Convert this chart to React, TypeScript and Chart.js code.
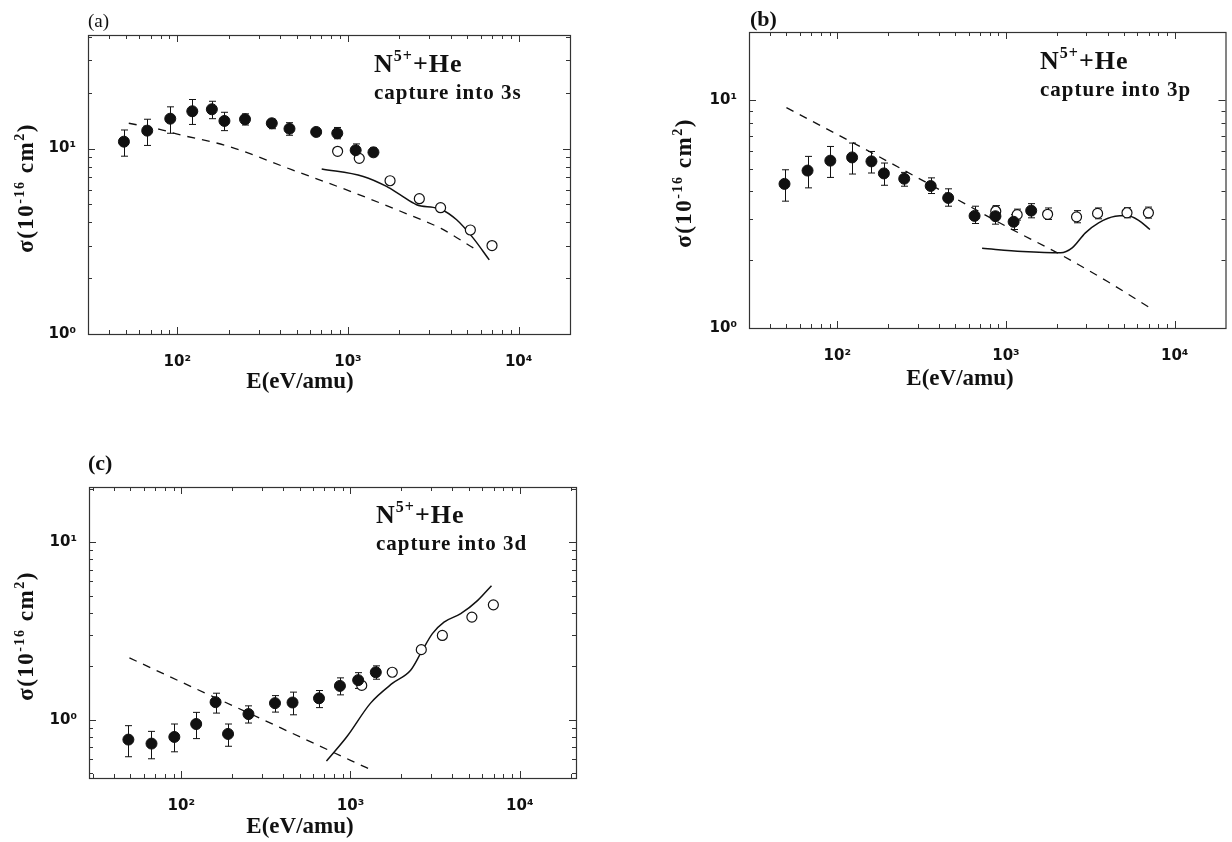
import React, { useEffect, useRef } from "react";
import { Chart, registerables } from "chart.js";

Chart.register(...registerables);

// ---------- shared energies (eV/amu) ----------
const E_FILLED = [48.7, 66.7, 91, 122.5, 159.5, 189, 249.5, 358, 454.5, 651.5, 866, 1110, 1411];
const E_OPEN = [870, 1165, 1765, 2620, 3490, 5215, 6985];
const E_OPEN_3D = [1165, 1765, 2620, 3490, 5215, 6985];
const X_TICKS = [100, 1000, 10000];
const Y_TICKS = [1, 10];

// ---------- (a) capture into 3s ----------
const S_FILLED = [10.9, 12.5, 14.5, 15.9, 16.3, 14.1, 14.4, 13.7, 12.8, 12.3, 12.1, 9.8, 9.55];
const S_FILLED_HI = [12.6, 14.4, 16.8, 18.4, 18.0, 15.7, 15.4, 14.4, 13.8, 12.8, 13.0, 10.6, 10.1];
const S_FILLED_LO = [9.1, 10.4, 12.1, 13.5, 14.5, 12.5, 13.4, 12.8, 11.8, 11.7, 11.3, 9.3, 9.1];
const S_OPEN = [9.67, 8.86, 6.71, 5.37, 4.8, 3.64, 3.0];
const S_DASH_E = [52, 79, 99, 199, 468, 1050, 2250, 3510, 5470];
const S_DASH = [13.7, 12.7, 12.0, 10.3, 7.7, 5.85, 4.42, 3.71, 2.9];
const S_SOLID_E = [702, 1230, 1684, 2018, 2524, 3162, 3460, 4333, 5420, 6730];
const S_SOLID = [7.77, 7.08, 6.25, 5.64, 4.98, 4.82, 4.74, 4.13, 3.29, 2.51];

// ---------- (b) capture into 3p ----------
const P_FILLED = [4.3, 4.92, 5.44, 5.62, 5.4, 4.78, 4.53, 4.21, 3.73, 3.11, 3.1, 2.93, 3.28];
const P_FILLED_HI = [4.96, 5.68, 6.28, 6.5, 5.97, 5.31, 4.83, 4.57, 4.09, 3.43, 3.43, 3.15, 3.52];
const P_FILLED_LO = [3.61, 4.13, 4.59, 4.75, 4.8, 4.24, 4.2, 3.9, 3.43, 2.88, 2.86, 2.71, 3.05];
const P_OPEN = [3.26, 3.15, 3.16, 3.08, 3.19, 3.21, 3.21];
const P_OPEN_HI = [3.45, 3.33, 3.37, 3.28, 3.37, 3.38, 3.4];
const P_OPEN_LO = [3.08, 2.98, 3.0, 2.9, 3.02, 3.05, 3.04];
const P_DASH_E = [50, 130, 405, 1000, 2060, 4000, 7100];
const P_DASH = [9.3, 6.4, 4.05, 2.8, 2.12, 1.6, 1.23];
const P_SOLID_E = [722, 1253, 2108, 2468, 2956, 3540, 4437, 5190, 6080, 7130];
const P_SOLID = [2.24, 2.17, 2.14, 2.25, 2.62, 2.9, 3.1, 3.12, 2.98, 2.71];

// ---------- (c) capture into 3d ----------
const D_FILLED = [0.773, 0.734, 0.8, 0.946, 1.256, 0.832, 1.076, 1.24, 1.25, 1.32, 1.55, 1.67, 1.85];
const D_FILLED_HI = [0.926, 0.86, 0.946, 1.1, 1.41, 0.946, 1.197, 1.367, 1.43, 1.46, 1.72, 1.84, 2.01];
const D_FILLED_LO = [0.619, 0.603, 0.66, 0.783, 1.09, 0.709, 0.958, 1.104, 1.066, 1.17, 1.38, 1.5, 1.69];
const D_OPEN = [1.56, 1.85, 2.48, 2.98, 3.78, 4.43];
const D_DASH_E = [49.4, 100, 256, 500, 1000, 1374];
const D_DASH = [2.23, 1.63, 1.08, 0.803, 0.591, 0.514];
const D_SOLID_E = [721, 956, 1314, 1766, 2266, 2597, 3047, 3568, 4481, 5627, 6809];
const D_SOLID = [0.585, 0.807, 1.24, 1.6, 1.9, 2.36, 3.05, 3.54, 3.95, 4.68, 5.68];

const INK = "#111";
const SERIF = '"Liberation Serif", "Times New Roman", serif';
const SANS = '"DejaVu Sans", "Liberation Sans", sans-serif';
const SUP: Record<string, string> = { "-1": "⁻¹", "0": "⁰", "1": "¹", "2": "²", "3": "³", "4": "⁴", "5": "⁵" };

type PanelSpec = {
  id: string;
  canvas: { left: number; top: number; width: number; height: number };
  area: { left: number; top: number; right: number; bottom: number };
  xMin: number; xMax: number; yMin: number; yMax: number;
  filledE: number[]; filled: number[]; filledHi: number[]; filledLo: number[];
  openE: number[]; open: number[]; openHi?: number[]; openLo?: number[];
  dashE: number[]; dash: number[]; solidE: number[]; solid: number[];
  tag: { text: string; font: string; x: number; y: number };
  note: { x: number; y1: number; y2: number; line2: string };
  xTitle: { x: number; y: number };
  yTitle: { x: number; y: number };
};

const PANELS: PanelSpec[] = [
  {
    id: "a",
    canvas: { left: 0, top: 0, width: 600, height: 400 },
    area: { left: 88, top: 35, right: 570, bottom: 334 },
    xMin: 30, xMax: 20000, yMin: 1, yMax: 41,
    filledE: E_FILLED, filled: S_FILLED, filledHi: S_FILLED_HI, filledLo: S_FILLED_LO,
    openE: E_OPEN, open: S_OPEN,
    dashE: S_DASH_E, dash: S_DASH, solidE: S_SOLID_E, solid: S_SOLID,
    tag: { text: "(a)", font: `19px ${SERIF}`, x: 88, y: 27 },
    note: { x: 374, y1: 72, y2: 99, line2: "capture into 3s" },
    xTitle: { x: 300, y: 382 },
    yTitle: { x: 25, y: 188 },
  },
  {
    id: "b",
    canvas: { left: 620, top: 0, width: 612, height: 400 },
    area: { left: 129, top: 32, right: 609, bottom: 328 },
    xMin: 30, xMax: 20000, yMin: 1, yMax: 20,
    filledE: E_FILLED, filled: P_FILLED, filledHi: P_FILLED_HI, filledLo: P_FILLED_LO,
    openE: E_OPEN, open: P_OPEN, openHi: P_OPEN_HI, openLo: P_OPEN_LO,
    dashE: P_DASH_E, dash: P_DASH, solidE: P_SOLID_E, solid: P_SOLID,
    tag: { text: "(b)", font: `bold 22px ${SERIF}`, x: 130, y: 26 },
    note: { x: 420, y1: 69, y2: 96, line2: "capture into 3p" },
    xTitle: { x: 340, y: 379 },
    yTitle: { x: 63, y: 183 },
  },
  {
    id: "c",
    canvas: { left: 0, top: 430, width: 600, height: 412 },
    area: { left: 89, top: 57, right: 576, bottom: 348 },
    xMin: 28.5, xMax: 21500, yMin: 0.47, yMax: 20.4,
    filledE: E_FILLED, filled: D_FILLED, filledHi: D_FILLED_HI, filledLo: D_FILLED_LO,
    openE: E_OPEN_3D, open: D_OPEN,
    dashE: D_DASH_E, dash: D_DASH, solidE: D_SOLID_E, solid: D_SOLID,
    tag: { text: "(c)", font: `bold 22px ${SERIF}`, x: 88, y: 40 },
    note: { x: 376, y1: 93, y2: 120, line2: "capture into 3d" },
    xTitle: { x: 300, y: 397 },
    yTitle: { x: 25, y: 206 },
  },
];

function pts(xs: number[], ys: number[]) {
  return xs.map((x, i) => ({ x, y: ys[i] }));
}

function powLabel(v: number) {
  const e = Math.round(Math.log10(v));
  return "10" + (SUP[String(e)] ?? String(e));
}

function logMarks(min: number, max: number) {
  const out: { v: number; major: boolean }[] = [];
  for (let e = Math.floor(Math.log10(min)); e <= Math.ceil(Math.log10(max)); e++) {
    for (let d = 1; d <= 9; d++) {
      const v = d * Math.pow(10, e);
      if (v > min * 1.0001 && v < max * 0.9999) out.push({ v, major: d === 1 });
    }
  }
  return out;
}

type Part = { t: string; f: string; dy?: number };
function drawRich(ctx: CanvasRenderingContext2D, x: number, y: number, parts: Part[], center = false) {
  let w = 0;
  parts.forEach((p) => {
    ctx.font = p.f;
    w += ctx.measureText(p.t).width;
  });
  let cx = center ? x - w / 2 : x;
  ctx.textAlign = "left";
  parts.forEach((p) => {
    ctx.font = p.f;
    ctx.fillText(p.t, cx, y + (p.dy || 0));
    cx += ctx.measureText(p.t).width;
  });
}

function buildConfig(p: PanelSpec): any {
  const errorBars = {
    id: "errorBars",
    beforeDatasetsDraw(chart: any) {
      const { ctx, scales } = chart;
      ctx.save();
      ctx.strokeStyle = INK;
      ctx.lineWidth = 1;
      chart.data.datasets.forEach((ds: any) => {
        if (!ds.errHi || !ds.errLo) return;
        ds.data.forEach((pt: any, j: number) => {
          const x = Math.round(scales.x.getPixelForValue(pt.x)) + 0.5;
          const y1 = scales.y.getPixelForValue(ds.errHi[j]);
          const y2 = scales.y.getPixelForValue(ds.errLo[j]);
          ctx.beginPath();
          ctx.moveTo(x, y1);
          ctx.lineTo(x, y2);
          ctx.moveTo(x - 3.5, y1);
          ctx.lineTo(x + 3.5, y1);
          ctx.moveTo(x - 3.5, y2);
          ctx.lineTo(x + 3.5, y2);
          ctx.stroke();
        });
      });
      ctx.restore();
    },
  };

  const frame = {
    id: "frame",
    afterDraw(chart: any) {
      const { ctx, chartArea: a, scales } = chart;
      ctx.save();
      ctx.strokeStyle = "#333";
      ctx.lineWidth = 1.2;
      ctx.strokeRect(a.left + 0.5, a.top + 0.5, a.right - a.left, a.bottom - a.top);
      ctx.lineWidth = 1;
      ctx.beginPath();
      logMarks(p.xMin, p.xMax).forEach(({ v, major }) => {
        const x = Math.round(scales.x.getPixelForValue(v)) + 0.5;
        const L = major ? 7 : 4;
        ctx.moveTo(x, a.bottom);
        ctx.lineTo(x, a.bottom - L);
        ctx.moveTo(x, a.top);
        ctx.lineTo(x, a.top + L);
      });
      logMarks(p.yMin, p.yMax).forEach(({ v, major }) => {
        const y = Math.round(scales.y.getPixelForValue(v)) + 0.5;
        const L = major ? 7 : 4;
        ctx.moveTo(a.left, y);
        ctx.lineTo(a.left + L, y);
        ctx.moveTo(a.right, y);
        ctx.lineTo(a.right - L, y);
      });
      ctx.stroke();
      ctx.restore();
    },
  };

  const texts = {
    id: "texts",
    afterDraw(chart: any) {
      const ctx: CanvasRenderingContext2D = chart.ctx;
      ctx.save();
      ctx.fillStyle = INK;
      ctx.textBaseline = "alphabetic";
      ctx.textAlign = "left";
      ctx.font = p.tag.font;
      ctx.fillText(p.tag.text, p.tag.x, p.tag.y);

      (ctx as any).letterSpacing = "1px";
      drawRich(ctx, p.note.x, p.note.y1, [
        { t: "N", f: `bold 26px ${SERIF}` },
        { t: "5+", f: `bold 16px ${SERIF}`, dy: -11 },
        { t: "+He", f: `bold 26px ${SERIF}` },
      ]);
      ctx.font = `bold 21px ${SERIF}`;
      ctx.fillText(p.note.line2, p.note.x, p.note.y2);
      (ctx as any).letterSpacing = "0px";

      ctx.textAlign = "center";
      ctx.textBaseline = "middle";
      ctx.font = `bold 23px ${SERIF}`;
      ctx.fillText("E(eV/amu)", p.xTitle.x, p.xTitle.y);

      ctx.translate(p.yTitle.x, p.yTitle.y);
      ctx.rotate(-Math.PI / 2);
      ctx.textBaseline = "alphabetic";
      (ctx as any).letterSpacing = "1.5px";
      drawRich(
        ctx,
        0,
        8,
        [
          { t: "σ(10", f: `bold 23px ${SERIF}` },
          { t: "-16", f: `bold 14px ${SERIF}`, dy: -9 },
          { t: " cm", f: `bold 23px ${SERIF}` },
          { t: "2", f: `bold 14px ${SERIF}`, dy: -9 },
          { t: ")", f: `bold 23px ${SERIF}` },
        ],
        true
      );
      ctx.restore();
    },
  };

  const tickFont = { family: SANS, size: 15, weight: "bold" as const };

  return {
    type: "scatter",
    data: {
      datasets: [
        {
          type: "line",
          label: "dashed",
          data: pts(p.dashE, p.dash),
          borderColor: INK,
          borderWidth: 1.3,
          borderDash: [8, 7],
          pointRadius: 0,
          cubicInterpolationMode: "monotone",
          fill: false,
          order: 4,
        },
        {
          type: "line",
          label: "solid",
          data: pts(p.solidE, p.solid),
          borderColor: INK,
          borderWidth: 1.5,
          pointRadius: 0,
          cubicInterpolationMode: "monotone",
          fill: false,
          order: 3,
        },
        {
          type: "scatter",
          label: "open",
          data: pts(p.openE, p.open),
          pointRadius: 5,
          pointBackgroundColor: "#fff",
          pointBorderColor: INK,
          pointBorderWidth: 1.2,
          errHi: p.openHi,
          errLo: p.openLo,
          order: 2,
        },
        {
          type: "scatter",
          label: "filled",
          data: pts(p.filledE, p.filled),
          pointRadius: 5.5,
          pointBackgroundColor: INK,
          pointBorderColor: INK,
          pointBorderWidth: 1,
          errHi: p.filledHi,
          errLo: p.filledLo,
          order: 1,
        },
      ],
    },
    options: {
      animation: false,
      responsive: false,
      devicePixelRatio: 1,
      events: [],
      layout: {
        padding: {
          left: 0,
          top: p.area.top,
          right: p.canvas.width - p.area.right,
          bottom: 0,
        },
      },
      plugins: { legend: { display: false }, tooltip: { enabled: false }, title: { display: false } },
      scales: {
        x: {
          type: "logarithmic",
          position: "bottom",
          min: p.xMin,
          max: p.xMax,
          grid: { display: false, drawTicks: false },
          border: { display: false },
          ticks: {
            autoSkip: false,
            maxRotation: 0,
            minRotation: 0,
            padding: 19,
            color: INK,
            font: tickFont,
            callback: (v: any) => powLabel(Number(v)),
          },
          afterBuildTicks: (s: any) => {
            s.ticks = X_TICKS.filter((v) => v >= p.xMin && v <= p.xMax).map((v) => ({ value: v }));
          },
          afterFit: (s: any) => {
            s.height = p.canvas.height - p.area.bottom;
          },
        },
        y: {
          type: "logarithmic",
          position: "left",
          min: p.yMin,
          max: p.yMax,
          grid: { display: false, drawTicks: false },
          border: { display: false },
          ticks: {
            autoSkip: false,
            padding: 12,
            color: INK,
            font: tickFont,
            callback: (v: any) => powLabel(Number(v)),
          },
          afterBuildTicks: (s: any) => {
            s.ticks = Y_TICKS.filter((v) => v >= p.yMin && v <= p.yMax).map((v) => ({ value: v }));
          },
          afterFit: (s: any) => {
            s.width = p.area.left;
          },
        },
      },
    },
    plugins: [errorBars, frame, texts],
  };
}

function PanelChart({ p }: { p: PanelSpec }) {
  const ref = useRef<HTMLCanvasElement | null>(null);
  useEffect(() => {
    if (!ref.current) return;
    const chart = new Chart(ref.current, buildConfig(p));
    return () => chart.destroy();
  }, [p]);
  return (
    <canvas
      ref={ref}
      width={p.canvas.width}
      height={p.canvas.height}
      style={{
        position: "absolute",
        left: p.canvas.left,
        top: p.canvas.top,
        width: p.canvas.width,
        height: p.canvas.height,
      }}
    />
  );
}

export default function App() {
  return (
    <div
      style={{
        position: "absolute",
        left: 0,
        top: 0,
        width: 1232,
        height: 842,
        background: "#fff",
        overflow: "hidden",
      }}
    >
      {PANELS.map((p) => (
        <PanelChart key={p.id} p={p} />
      ))}
    </div>
  );
}
